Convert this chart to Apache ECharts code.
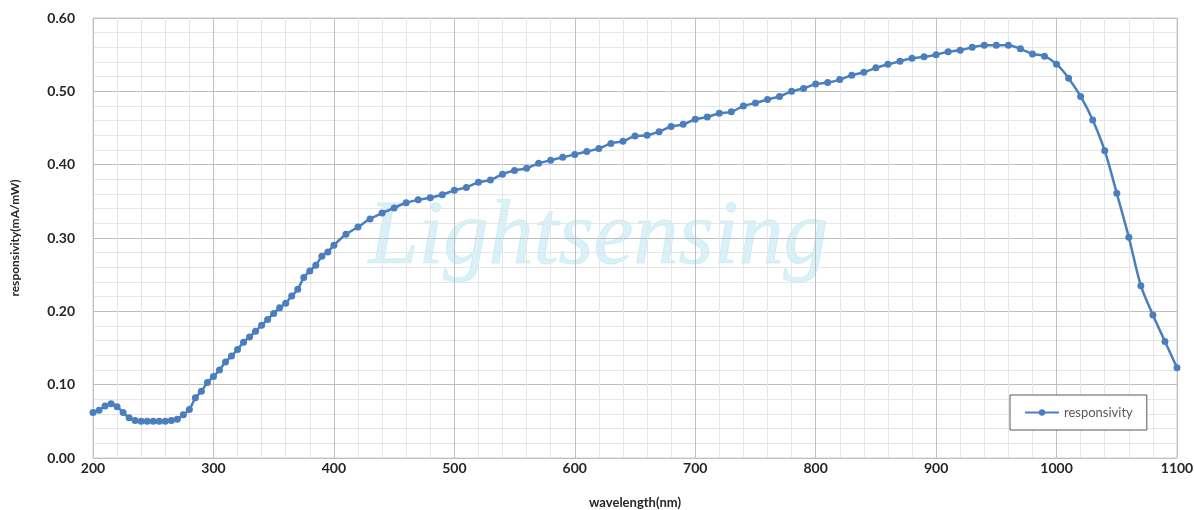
<!DOCTYPE html>
<html><head><meta charset="utf-8">
<script src="https://cdn.jsdelivr.net/npm/echarts@6/dist/echarts.min.js"></script>
<style>html,body{margin:0;padding:0;background:#fff}#c{width:1194px;height:510px}</style>
</head><body><div id="c"></div>
<script>
const wavelengths = [200,205,210,215,220,225,230,235,240,245,250,255,260,265,270,275,280,285,290,295,300,305,310,315,320,325,330,335,340,345,350,355,360,365,370,375,380,385,390,395,400,
410,420,430,440,450,460,470,480,490,500,510,520,530,540,550,560,570,580,590,600,610,620,630,640,650,660,670,680,690,700,710,720,730,740,750,760,770,780,790,800,810,820,830,840,850,860,870,880,890,900,910,920,930,940,950,960,970,980,990,1000,1010,1020,1030,1040,1050,1060,1070,1080,1090,1100];
const responsivity = [0.062,0.065,0.071,0.074,0.070,0.062,0.055,0.051,0.050,0.050,0.050,0.050,0.050,0.051,0.053,0.059,0.066,0.082,0.091,0.103,0.111,0.120,0.131,0.139,0.148,0.158,0.165,0.173,0.181,0.189,0.197,0.205,0.211,0.221,0.230,0.246,0.255,0.263,0.275,0.281,0.290,
0.305,0.315,0.326,0.334,0.341,0.348,0.352,0.355,0.359,0.365,0.369,0.376,0.379,0.387,0.392,0.395,0.402,0.406,0.410,0.414,0.418,0.422,0.429,0.432,0.439,0.440,0.445,0.452,0.455,0.462,0.465,0.470,0.472,0.480,0.484,0.489,0.493,0.500,0.504,0.510,0.512,0.516,0.522,0.526,0.532,0.537,0.541,0.545,0.547,0.550,0.554,0.556,0.560,0.563,0.563,0.563,0.558,0.551,0.548,0.537,0.518,0.493,0.461,0.419,0.361,0.301,0.235,0.195,0.159,0.123];
const seriesName = 'responsivity';
const xName = 'wavelength(nm)';
const yName = 'responsivity(mA/mW)';
const watermark = 'Lightsensing';

const chart = echarts.init(document.getElementById('c'));
const lbl = {fontFamily:'Lato', fontWeight:'bold', fontSize:14, color:'#262626'};
chart.setOption({
  animation:false,
  grid:{left:93, right:17, top:18, bottom:52, show:true, borderColor:'#d0d0d0', borderWidth:1, containLabel:false, outerBoundsMode:'none'},
  graphic:[{type:'text', left:368, top:194, z:0, silent:true,
    style:{text:watermark, font:'italic 90px "Liberation Serif"', fill:'rgba(170,225,240,0.45)', stroke:'rgba(200,235,245,0.6)', lineWidth:1}}],
  legend:{data:[seriesName], left:1010, top:395, width:120, orient:'horizontal',
    backgroundColor:'#fff', borderColor:'#595959', borderWidth:1, padding:[11,14,11,14],
    itemWidth:34, itemHeight:8, itemGap:4,
    textStyle:{fontFamily:'Lato', fontSize:13, color:'#595959'}},
  xAxis:{type:'value', min:200, max:1100, interval:100, name:xName, nameLocation:'middle', nameGap:38,
    nameTextStyle:{fontFamily:'Lato', fontWeight:'bold', fontSize:13, color:'#262626'},
    axisLine:{show:false}, axisTick:{show:false},
    axisLabel:Object.assign({margin:3, formatter:v=>String(v)}, lbl),
    splitLine:{lineStyle:{color:'#bfbfbf', width:1}},
    minorTick:{show:false, splitNumber:5},
    minorSplitLine:{show:true, lineStyle:{color:'#e6e6e6', width:1}}},
  yAxis:{type:'value', min:0, max:0.6, interval:0.1, name:yName, nameLocation:'middle', nameGap:72,
    nameTextStyle:{fontFamily:'Lato', fontWeight:'bold', fontSize:12, color:'#262626'},
    axisLine:{show:false}, axisTick:{show:false},
    axisLabel:Object.assign({margin:18, formatter:v=>v.toFixed(2)}, lbl),
    splitLine:{lineStyle:{color:'#bfbfbf', width:1}},
    minorTick:{show:false, splitNumber:5},
    minorSplitLine:{show:true, lineStyle:{color:'#e6e6e6', width:1}}},
  series:[{name:seriesName, type:'line', smooth:0.3, z:3,
    data:wavelengths.map((w,i)=>[w, responsivity[i]]),
    symbol:'circle', symbolSize:7, showSymbol:true,
    lineStyle:{color:'#4a7ebf', width:2.5},
    itemStyle:{color:'#4a7ebf'}}]
});
</script></body></html>
